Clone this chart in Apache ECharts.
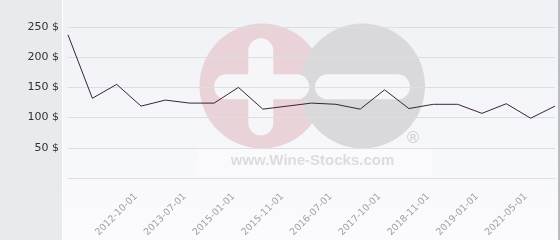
<!DOCTYPE html>
<html><head><meta charset="utf-8">
<script src="https://cdn.jsdelivr.net/npm/echarts@6/dist/echarts.min.js"></script>
<style>html,body{margin:0;padding:0;background:#fff}#c{width:560px;height:240px}</style>
</head><body><div id="c"></div>
<script>
var categories = ['', '', '', '2012-10-01', '', '2013-07-01', '', '2015-01-01', '', '2015-11-01', '', '2016-07-01', '', '2017-10-01', '', '2018-11-01', '', '2019-01-01', '', '2021-05-01', ''];
var prices = [237, 132, 155, 119, 129, 124, 124, 150, 114, 119, 124, 122, 114, 146, 115, 122, 122, 107, 123, 99, 119];
var yTicks = [0, 50, 100, 150, 200, 250];

var chart = echarts.init(document.getElementById('c'), null, {renderer: 'canvas'});
chart.setOption({
  animation: false,
  backgroundColor: '#ffffff',
  graphic: [
    {type: 'rect', z: -10, silent: true, shape: {x: 0, y: 0, width: 62, height: 240}, style: {fill: '#e7ebee'}},
    {type: 'rect', z: -10, silent: true, shape: {x: 63, y: 0, width: 495, height: 240},
      style: {fill: new echarts.graphic.LinearGradient(0, 0, 0, 1, [{offset: 0, color: '#eff1f5'}, {offset: 1, color: '#fbfbfd'}])}},
    {type: 'rect', z: -10, silent: true, shape: {x: 558, y: 0, width: 2, height: 240}, style: {fill: '#b8bcc0'}},
    {type: 'rect', z: -9, silent: true, shape: {x: 197, y: 148, width: 235, height: 28}, style: {fill: '#fafafc'}},
    {type: 'circle', z: -9, silent: true, shape: {cx: 262, cy: 86, r: 62.5}, style: {fill: '#ead2d9'}},
    {type: 'circle', z: -9, silent: true, shape: {cx: 362.5, cy: 86, r: 62.5}, style: {fill: '#d9d9db'}},
    {type: 'rect', z: -8, silent: true, shape: {x: 248.3, y: 38.3, width: 25, height: 97, r: 12.5}, style: {fill: '#f6f6f8'}},
    {type: 'rect', z: -8, silent: true, shape: {x: 214, y: 74.3, width: 95.3, height: 25, r: 12.5}, style: {fill: '#f6f6f8'}},
    {type: 'rect', z: -8, silent: true, shape: {x: 315, y: 74.3, width: 95, height: 25, r: 12.5}, style: {fill: '#f6f6f8'}},
    {type: 'text', z: -8, silent: true, style: {x: 413, y: 139, text: '®', fill: '#cfcfd2', font: '16px "DejaVu Sans"', align: 'center', verticalAlign: 'middle'}},
    {type: 'text', z: -8, silent: true, style: {x: 312.5, y: 161, text: 'www.Wine-Stocks.com', fill: '#dcdcdf', font: 'bold 15px "Liberation Sans"', align: 'center', verticalAlign: 'middle'}}
  ],
  grid: {left: 68, right: 5, top: 27, bottom: 62, containLabel: false},
  xAxis: {
    type: 'category',
    data: categories,
    boundaryGap: false,
    axisLine: {show: true, lineStyle: {color: '#dcdee2', width: 1}},
    axisTick: {show: false},
    splitLine: {show: false},
    axisLabel: {interval: 0, rotate: 45, color: '#a0a0a0', fontSize: 9.5, fontFamily: 'DejaVu Sans', margin: 12, padding: [0, 7, 0, 0]}
  },
  yAxis: {
    type: 'value',
    min: yTicks[0], max: yTicks[yTicks.length - 1], interval: 50,
    axisLine: {show: false},
    axisTick: {show: false},
    splitLine: {lineStyle: {color: '#dcdee2', width: 1}},
    axisLabel: {color: '#333333', fontSize: 11, fontFamily: 'DejaVu Sans', margin: 9,
      formatter: function (v) { return v === 0 ? '' : v + ' $'; }}
  },
  series: [{
    type: 'line',
    data: prices,
    symbol: 'none',
    lineStyle: {color: '#3a2333', width: 1},
    z: 5
  }]
});
</script></body></html>
